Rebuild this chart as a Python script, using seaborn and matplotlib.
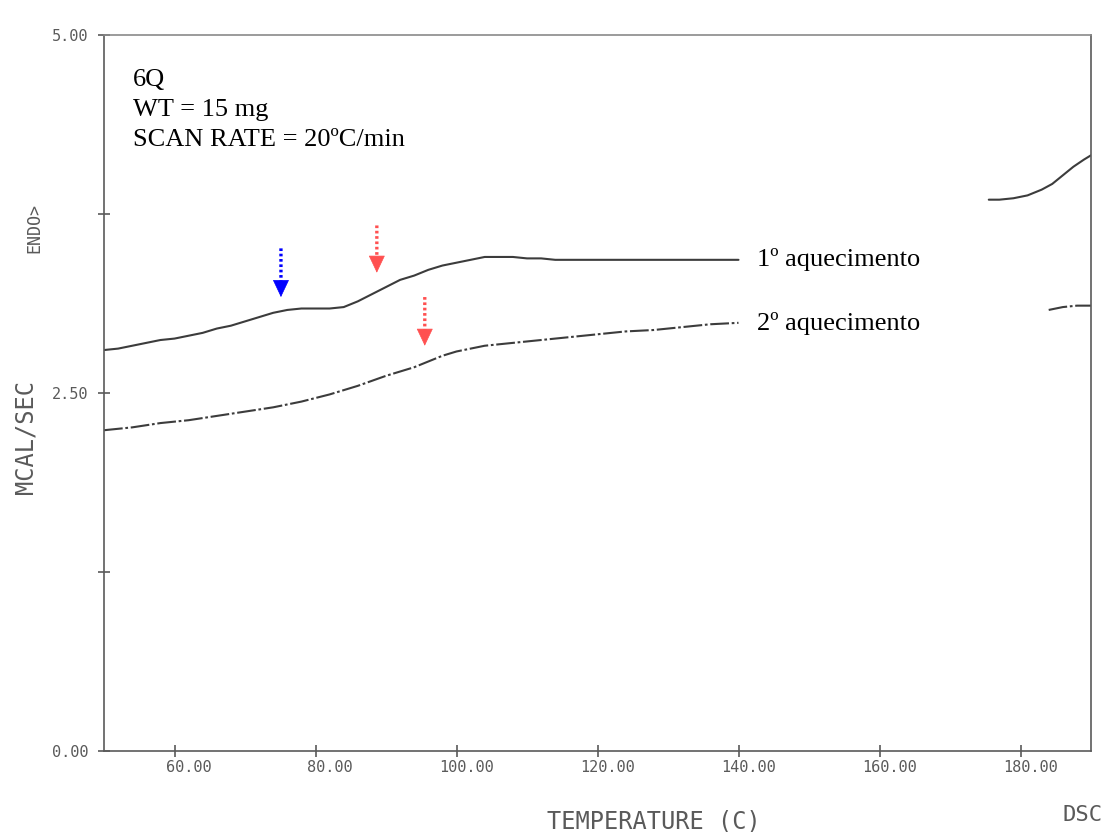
import numpy as np
import pandas as pd
import matplotlib
matplotlib.use("Agg")
import matplotlib.pyplot as plt
from matplotlib.transforms import ScaledTranslation
from matplotlib.ticker import FixedLocator, FixedFormatter
import seaborn as sns

# ---------------- data ----------------
# 1st heating, visible part before the label box
heat1_T = [50, 52, 54, 56, 58, 60, 62, 64, 66, 68, 70, 72, 74, 76, 78, 80, 82, 84,
           86, 88, 90, 92, 94, 96, 98, 100, 102, 104, 106, 108, 110, 112, 114, 116,
           120, 125, 130, 135, 140]
heat1_v = [2.80, 2.81, 2.83, 2.85, 2.87, 2.88, 2.90, 2.92, 2.95, 2.97, 3.00, 3.03,
           3.06, 3.08, 3.09, 3.09, 3.09, 3.10, 3.14, 3.19, 3.24, 3.29, 3.32, 3.36,
           3.39, 3.41, 3.43, 3.45, 3.45, 3.45, 3.44, 3.44, 3.43, 3.43, 3.43, 3.43,
           3.43, 3.43, 3.43]
# 1st heating, visible part at the high-temperature end
heat1_end_T = [175.5, 177, 179, 181, 183, 184.5, 186, 187.5, 189, 190]
heat1_end_v = [3.85, 3.85, 3.86, 3.88, 3.92, 3.96, 4.02, 4.08, 4.13, 4.16]

# 2nd heating, visible part before the label box
heat2_T = [50, 54, 58, 62, 66, 70, 74, 78, 82, 86, 90, 94, 98, 100, 104, 108, 112,
           116, 120, 124, 128, 132, 136, 140]
heat2_v = [2.24, 2.26, 2.29, 2.31, 2.34, 2.37, 2.40, 2.44, 2.49, 2.55, 2.62, 2.68,
           2.76, 2.79, 2.83, 2.85, 2.87, 2.89, 2.91, 2.93, 2.94, 2.96, 2.98, 2.99]
# 2nd heating, visible part at the high-temperature end
heat2_end_T = [184, 186, 188, 190]
heat2_end_v = [3.08, 3.10, 3.11, 3.11]

# transition markers (temperature, arrow tail value, arrow tip value)
arrow_T = [75.1, 88.7, 95.5]
arrow_tail = [3.51, 3.67, 3.17]
arrow_tip = [3.17, 3.34, 2.83]
arrow_colors = ["#0000ff", "#ff5050", "#ff5050"]

x_ticks = [60, 80, 100, 120, 140, 160, 180]
x_ticklabels = ["60.00", "80.00", "100.00", "120.00", "140.00", "160.00", "180.00"]
y_ticks = [0, 1.25, 2.5, 3.75, 5]
y_ticklabels = ["0.00", "", "2.50", "", "5.00"]

info_lines = ["6Q", "WT = 15 mg", "SCAN RATE = 20ºC/min"]
run_labels = ["1º aquecimento", "2º aquecimento"]

# ---------------- frame ----------------
def segs(T, v, run, seg):
    return pd.DataFrame({"T": T, "v": v, "run": run, "seg": seg})

df = pd.concat([
    segs(heat1_T, heat1_v, "1", "a"),
    segs(heat1_end_T, heat1_end_v, "1", "b"),
    segs(heat2_T, heat2_v, "2", "a"),
    segs(heat2_end_T, heat2_end_v, "2", "b"),
], ignore_index=True)

sns.set_theme(style="white")
plt.rcParams["font.family"] = ["DejaVu Sans Mono", "DejaVu Sans"]

gray = "#5a5a5a"
line_col = "#3c3c3c"

fig = plt.figure(figsize=(11.06, 8.32), dpi=100)
ax = fig.add_axes([104 / 1106, 1 - 751 / 832, 987 / 1106, 716 / 832])

sns.lineplot(data=df[df.run == "1"], x="T", y="v", units="seg", estimator=None,
             color=line_col, lw=1.5, ax=ax, sort=False)
sns.lineplot(data=df[df.run == "2"], x="T", y="v", units="seg", estimator=None,
             color=line_col, lw=1.5, ax=ax, sort=False,
             linestyle=(0, (9, 1.3, 1.3, 1.3)))

ax.set_xlim(50, 190)
ax.set_ylim(0, 5)

for s in ax.spines.values():
    s.set_color(gray)
    s.set_linewidth(1.2)
ax.spines["top"].set_color("#8a8a8a")

ax.xaxis.set_major_locator(FixedLocator(x_ticks))
ax.xaxis.set_major_formatter(FixedFormatter(x_ticklabels))
ax.yaxis.set_major_locator(FixedLocator(y_ticks))
ax.yaxis.set_major_formatter(FixedFormatter(y_ticklabels))
ax.tick_params(axis="both", direction="inout", length=9, width=1.2, colors=gray,
               labelsize=11, bottom=True, left=True)
ax.tick_params(axis="x", pad=2)
ax.tick_params(axis="y", pad=7)
for lab in ax.get_xticklabels():
    lab.set_horizontalalignment("right")
    lab.set_transform(lab.get_transform() + ScaledTranslation(0.37, 0, fig.dpi_scale_trans))
ax.set_xlabel("")
ax.set_ylabel("")
ax.grid(False)

# axis captions in plotter style
fig.text(654 / 1106, 1 - 810 / 832, "TEMPERATURE (C)", ha="center", va="top",
         fontsize=17, color=gray)
fig.text(1103 / 1106, 1 - 815 / 832, "DSC", ha="right", va="center",
         fontsize=16, color=gray)
fig.text(25 / 1106, 1 - 437 / 832, "MCAL/SEC", ha="center", va="center",
         rotation=90, fontsize=17, color=gray)
fig.text(34 / 1106, 1 - 228 / 832, "ENDO>", ha="center", va="center",
         rotation=90, fontsize=12, color=gray)

# sample info (serif)
serif = ["Liberation Serif", "DejaVu Serif"]
for txt, yb in zip(info_lines, [86, 116, 146]):
    ax.text(0.0294, (751 - yb) / 716, txt, transform=ax.transAxes, ha="left",
            va="baseline", fontsize=19, family=serif, color="black")
for txt, yb in zip(run_labels, [266, 330]):
    ax.text((757 - 104) / 987, (751 - yb) / 716, txt, transform=ax.transAxes,
            ha="left", va="baseline", fontsize=19, family=serif, color="black")

# transition arrows: dotted shaft + solid head
head_len = 0.09
for T, t0, t1, c in zip(arrow_T, arrow_tail, arrow_tip, arrow_colors):
    ax.annotate("", xy=(T, t1 + head_len), xytext=(T, t0),
                arrowprops=dict(arrowstyle="-", linestyle=(0, (0.8, 0.8)), lw=2.4,
                                capstyle="butt", color=c, shrinkA=0, shrinkB=0))
    ax.annotate("", xy=(T, t1), xytext=(T, t1 + head_len),
                arrowprops=dict(arrowstyle="-|>,head_length=0.95,head_width=0.45",
                                lw=0.5, color=c, shrinkA=0, shrinkB=0))

fig.savefig("out.png", dpi=100)
